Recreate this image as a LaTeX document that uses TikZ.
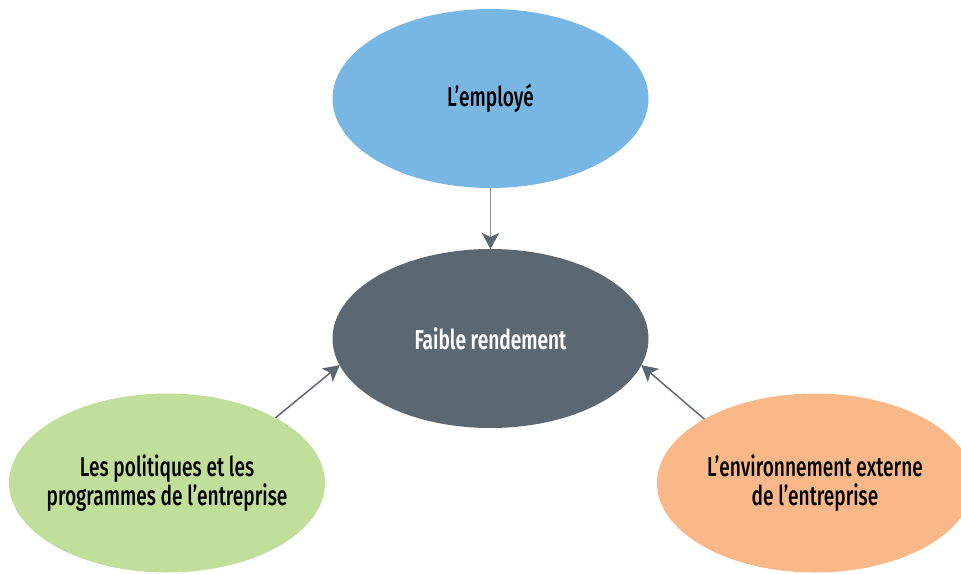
\documentclass[tikz,border=0pt]{standalone}
\usepackage{fontspec}
\setmainfont{Fira Sans}[FakeStretch=0.70, UprightFont=* Medium, BoldFont=* SemiBold]
\usetikzlibrary{shapes.geometric,arrows.meta}
\definecolor{cblue}{RGB}{120,182,227}
\definecolor{cdark}{RGB}{92,104,113}
\definecolor{cgreen}{RGB}{194,222,155}
\definecolor{corange}{RGB}{250,184,136}
\definecolor{cline}{RGB}{140,146,151}
\tikzset{
  oval/.style={ellipse, minimum width=316*0.75pt, minimum height=179*0.75pt, inner sep=-30pt, outer sep=0pt, align=center,
    font=\fontsize{20.5}{22}\selectfont},
  conn/.style={line width=1.1pt, -{Stealth[length=12pt,width=13pt,inset=3pt]}},
}
\begin{document}
\begin{tikzpicture}[x=0.75pt,y=-0.75pt]
\useasboundingbox (0,0) rectangle (961,574);
\clip (0,0) rectangle (961,574);
\node[oval, fill=cblue, text=black] (emp) at (490.5,98.5) {L’employé};
\node[oval, fill=cdark, text=white, font=\fontsize{20.5}{22}\selectfont\bfseries] (fr) at (490.5,338.5) {Faible rendement};
\node[oval, fill=cgreen, text=black] (pol) at (167,483) {Les politiques et les\\programmes de l’entreprise};
\node[oval, fill=corange, text=black] (env) at (815,483) {L’environnement externe\\de l’entreprise};
\draw[conn, draw=cline, -{Stealth[length=12pt,width=13pt,inset=3pt,color=cdark]}] (emp.south) -- (fr.north);
\draw[conn, draw=cdark] (pol.31) -- (fr.190);
\draw[conn, draw=cdark] (env.150) -- (fr.-10);
\end{tikzpicture}
\end{document}
